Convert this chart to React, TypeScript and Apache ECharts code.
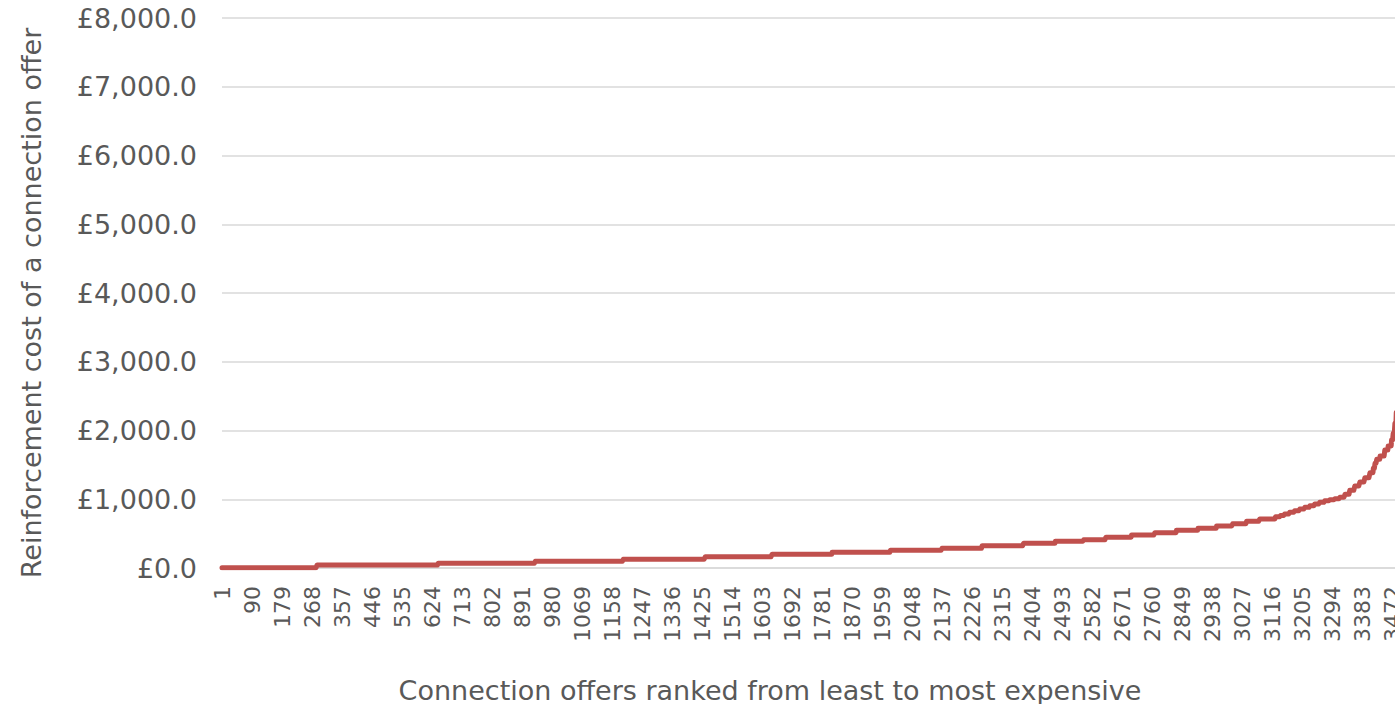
import React, { useEffect, useRef } from "react";
import * as echarts from "echarts";

// Number of ranked connection offers on the category axis
const OFFER_COUNT = 3500;

// Cost curve as a staircase: each entry starts a new cost level at that rank
const stepRank = [
  1, 283, 642, 930, 1191, 1434, 1632, 1810, 1983, 2136, 2255, 2378, 2472, 2556,
  2622, 2698, 2767, 2831, 2895, 2950, 2998, 3039, 3078, 3125, 3140, 3152, 3167,
  3182, 3197, 3212, 3227, 3241, 3256, 3271, 3286, 3301, 3316, 3331, 3345, 3360,
  3375, 3390, 3405, 3415, 3420, 3425, 3435, 3449, 3459, 3469, 3474, 3479, 3483,
];
const stepCost = [
  4, 45, 68, 97, 128, 165, 199, 228, 257, 286, 325, 359, 388, 410,
  448, 480, 514, 548, 577, 611, 644, 679, 713, 745, 765, 785, 810,
  834, 858, 882, 907, 931, 955, 979, 994, 1009, 1028, 1072, 1130, 1193,
  1251, 1314, 1387, 1450, 1523, 1581, 1629, 1716, 1775, 1862, 1959, 2105, 2260,
];
const lastRank = 3484;

const yTitle = "Reinforcement cost of a connection offer";
const xTitle = "Connection offers ranked from least to most expensive";

const TEXT = "#595959";
const GRID = "#D9D9D9";
const LINE = "#C0504D";
const FONT = "'DejaVu Sans', Verdana, sans-serif";

function buildRanks(): string[] {
  const out: string[] = [];
  for (let r = 1; r <= OFFER_COUNT; r++) out.push(String(r));
  return out;
}

function buildCosts(): number[] {
  const out: number[] = [];
  let k = 0;
  for (let r = 1; r <= lastRank; r++) {
    while (k + 1 < stepRank.length && stepRank[k + 1] <= r) k++;
    out.push(stepCost[k]);
  }
  return out;
}

function formatPounds(v: number): string {
  return (
    "£" +
    v.toLocaleString("en-GB", { minimumFractionDigits: 1, maximumFractionDigits: 1 })
  );
}

export default function App() {
  const ref = useRef<HTMLDivElement>(null);

  useEffect(() => {
    if (!ref.current) return;
    const chart = echarts.init(ref.current, null, { renderer: "svg" });
    chart.setOption({
      animation: false,
      backgroundColor: "#ffffff",
      grid: { left: 222, top: 18, bottom: 136, right: 18, containLabel: false },
      xAxis: {
        type: "category",
        data: buildRanks(),
        boundaryGap: false,
        axisLine: { show: true, lineStyle: { color: GRID, width: 1.5 } },
        axisTick: { show: false },
        axisLabel: {
          interval: 88,
          rotate: 90,
          margin: 18,
          color: TEXT,
          fontSize: 22,
          fontFamily: FONT,
        },
        splitLine: { show: false },
      },
      yAxis: {
        type: "value",
        min: 0,
        max: 8000,
        interval: 1000,
        axisLine: { show: false },
        axisTick: { show: false },
        axisLabel: {
          margin: 25,
          color: TEXT,
          fontSize: 27,
          fontFamily: FONT,
          formatter: (v: number) => formatPounds(v),
        },
        splitLine: { show: true, lineStyle: { color: GRID, width: 1.5 } },
      },
      series: [
        {
          type: "line",
          data: buildCosts(),
          showSymbol: false,
          symbol: "none",
          lineStyle: { color: LINE, width: 5, cap: "round", join: "round" },
          itemStyle: { color: LINE },
        },
      ],
      graphic: [
        {
          type: "text",
          x: 31,
          y: 303,
          rotation: Math.PI / 2,
          style: {
            text: yTitle,
            fill: TEXT,
            font: `27px ${FONT}`,
            align: "center",
            verticalAlign: "middle",
          },
        },
        {
          type: "text",
          x: 770,
          y: 690,
          style: {
            text: xTitle,
            fill: TEXT,
            font: `27px ${FONT}`,
            align: "center",
            verticalAlign: "middle",
          },
        },
      ],
    });
    return () => chart.dispose();
  }, []);

  return (
    <div
      style={{
        position: "fixed",
        left: 0,
        top: 0,
        width: 1395,
        height: 704,
        overflow: "hidden",
        background: "#ffffff",
      }}
    >
      <div ref={ref} style={{ width: 1420, height: 704 }} />
    </div>
  );
}
